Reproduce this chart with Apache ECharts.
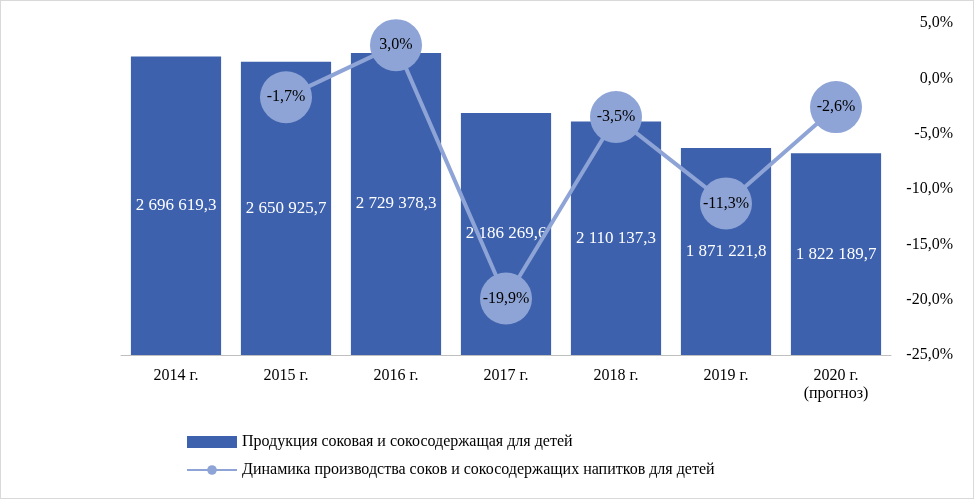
<!DOCTYPE html>
<html><head><meta charset="utf-8">
<script src="https://cdn.jsdelivr.net/npm/echarts@6/dist/echarts.min.js"></script>
<style>html,body{margin:0;padding:0;background:#fff}#c{width:972px;height:497px;border:1px solid #d9d9d9}</style>
</head><body><div id="c"></div>
<script>
const categories=['2014 г.','2015 г.','2016 г.','2017 г.','2018 г.','2019 г.','2020 г.\n(прогноз)'];
const production=[2696619.3,2650925.7,2729378.3,2186269.6,2110137.3,1871221.8,1822189.7];
const dynamics=[null,-1.7,3.0,-19.9,-3.5,-11.3,-2.6];
function fmtNum(v){const p=v.toFixed(1).split('.');return p[0].replace(/\B(?=(\d{3})+(?!\d))/g,' ')+','+p[1];}
const font='Liberation Serif';
const chart=echarts.init(document.getElementById('c'));
chart.setOption({
 textStyle:{fontFamily:font},
 grid:{left:120,right:82,top:22,bottom:143},
 legend:{orient:'vertical',left:180,top:428,itemGap:12,itemWidth:50,itemHeight:12,
  textStyle:{fontFamily:font,fontSize:16,color:'#000'},
  data:[{name:'Продукция соковая и сокосодержащая для детей',icon:'rect'},{name:'Динамика производства соков и сокосодержащих напитков для детей'}]},
 xAxis:{type:'category',data:categories,axisTick:{show:false},axisLine:{lineStyle:{color:'#bfbfbf'}},
  axisLabel:{color:'#000',fontSize:16,fontFamily:font,margin:12,lineHeight:18}},
 yAxis:[{type:'value',min:0,max:3000000,show:false,splitLine:{show:false}},
  {type:'value',min:-25,max:5,interval:5,position:'right',splitLine:{show:false},axisLine:{show:false},axisTick:{show:false},
   axisLabel:{color:'#000',fontSize:16,fontFamily:font,align:'right',margin:62,formatter:v=>v.toFixed(1).replace('.',',')+'%'}}],
 series:[{name:'Продукция соковая и сокосодержащая для детей',type:'bar',data:production,barWidth:'82%',
   itemStyle:{color:'#3d61ac'},label:{show:true,position:'inside',color:'#fff',fontSize:17,fontFamily:font,formatter:p=>fmtNum(p.value)}},
  {name:'Динамика производства соков и сокосодержащих напитков для детей',type:'line',yAxisIndex:1,data:dynamics,
   symbol:'circle',symbolSize:52,lineStyle:{color:'#8ea4d6',width:4},itemStyle:{color:'#8ea4d6'},
   label:{show:true,position:'inside',color:'#000',fontSize:16,fontFamily:font,formatter:p=>p.value.toFixed(1).replace('.',',')+'%'}}]
});
</script></body></html>
